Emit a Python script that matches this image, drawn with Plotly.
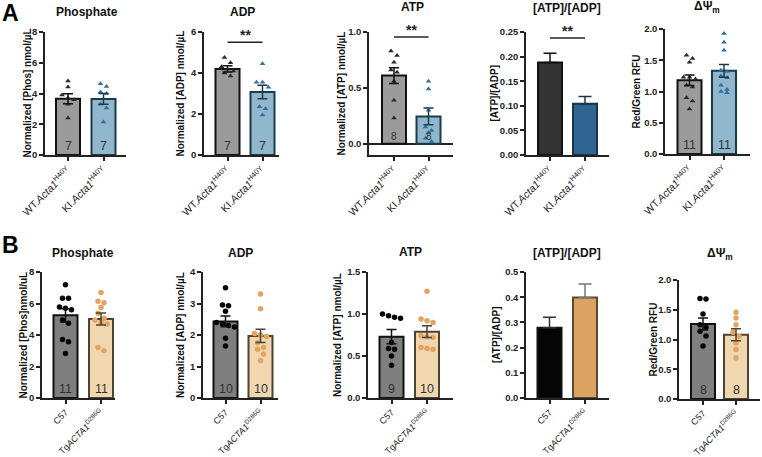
import plotly.graph_objects as go

# ---- data ----
titles = ["Phosphate", "ADP", "ATP", "[ATP]/[ADP]", "ΔΨ<sub>m</sub>"]
ytitles_a = ["Normalized [Phos] nmol/µL", "Normalized [ADP] nmol/µL",
             "Normalized [ATP] nmol/µL", "[ATP]/[ADP]", "Red/Green RFU"]
ytitles_b = ["Normalized [Phos]nmol/uL", "Normalized [ADP] nmol/µL",
             "Normalized [ATP] nmol/µL", "[ATP]/[ADP]", "Red/Green RFU"]
groups_a = ["WT.<i>Acta1</i><sup>H40Y</sup>", "KI.<i>Acta1</i><sup>H40Y</sup>"]
groups_b = ["C57", "Tg<i>ACTA1</i><sup>D286G</sup>"]

# row A : WT vs KI Acta1 H40Y
a_phos_wt = [4.82, 4.43, 3.9, 3.7, 3.6, 3.3, 2.4]
a_phos_ki = [4.63, 4.46, 4.1, 4.0, 3.3, 3.05, 2.15]
a_phos_mean = [3.66, 3.65]
a_phos_sem = [0.32, 0.35]

a_adp_wt = [4.75, 4.5, 4.3, 4.2, 4.1, 4.0, 3.85]
a_adp_ki = [4.45, 3.55, 3.55, 3.3, 2.35, 2.25, 1.95]
a_adp_mean = [4.2, 3.07]
a_adp_sem = [0.15, 0.33]

a_atp_wt = [0.83, 0.79, 0.73, 0.66, 0.64, 0.56, 0.39, 0.23]
a_atp_ki = [0.56, 0.49, 0.3, 0.15, 0.12, 0.1, 0.05, 0.02]
a_atp_mean = [0.61, 0.245]
a_atp_sem = [0.07, 0.075]

a_ratio_mean = [0.188, 0.104]
a_ratio_sem = [0.019, 0.015]

a_psi_wt = [1.58, 1.53, 1.47, 1.23, 1.23, 1.2, 1.1, 1.07, 0.9, 0.85, 0.72]
a_psi_ki = [1.93, 1.79, 1.66, 1.34, 1.32, 1.25, 1.22, 1.1, 1.03, 1.0, 0.98]
a_psi_mean = [1.18, 1.33]
a_psi_sem = [0.085, 0.1]

# row B : C57 vs TgACTA1 D286G
b_phos_c57 = [7.19, 6.34, 6.34, 5.77, 5.7, 5.6, 4.96, 4.74, 3.72, 3.57, 2.83]
b_phos_tg = [6.7, 6.15, 6.05, 5.75, 5.38, 5.06, 4.96, 4.8, 4.7, 3.2, 3.0]
b_phos_mean = [5.25, 5.02]
b_phos_sem = [0.42, 0.38]

b_adp_c57 = [3.5, 2.95, 2.93, 2.75, 2.4, 2.35, 2.3, 2.25, 1.9, 1.65]
b_adp_tg = [3.3, 2.83, 2.05, 2.0, 1.95, 1.75, 1.6, 1.55, 1.4, 1.18]
b_adp_mean = [2.43, 1.97]
b_adp_sem = [0.17, 0.21]

b_atp_c57 = [1.0, 0.98, 0.96, 0.95, 0.66, 0.59, 0.58, 0.5, 0.39]
b_atp_tg = [1.27, 0.94, 0.92, 0.9, 0.74, 0.73, 0.72, 0.6, 0.59, 0.58]
b_atp_mean = [0.73, 0.79]
b_atp_sem = [0.085, 0.07]

b_ratio_mean = [0.279, 0.399]
b_ratio_sem = [0.041, 0.053]

b_psi_c57 = [1.69, 1.68, 1.43, 1.25, 1.2, 1.14, 1.06, 0.89]
b_psi_tg = [1.46, 1.36, 1.25, 1.12, 1.05, 0.94, 0.83, 0.69]
b_psi_mean = [1.26, 1.08]
b_psi_sem = [0.1, 0.1]

# ---- styling ----
W, H = 762, 457
FONT = "Arial, Liberation Sans, sans-serif"

style_a = dict(fill=["#9b9b9b", "#90b7cc"], edge=["#111111", "#1b3a4b"],
               dot=["#2a2a2a", "#2f6fa3"], symbol="triangle-up", err=["#111111", "#1b3a4b"])
style_a_ratio = dict(fill=["#333333", "#2f6590"], edge=["#111111", "#1c3448"], err=["#111111", "#1c3448"])
style_b = dict(fill=["#7f7f7f", "#f1d7b0"], edge=["#111111", "#4d4330"],
               dot=["#050505", "#e3a45f"], symbol="circle", err=["#111111", "#4d4330"])
style_b_ratio = dict(fill=["#050505", "#dca262"], edge=["#111111", "#5a4a35"], err=["#333333", "#777777"])

# pixel boxes: x0, x1, bar centres, top, bottom
panels = [
    dict(box=(45, 126, 68, 103.5, 32, 155), yr=(0, 8), dt=2, fmt="d", pts=(a_phos_wt, a_phos_ki),
         mean=a_phos_mean, sem=a_phos_sem, st=style_a, title=(87, 12), yt=(27, ytitles_a[0])),
    dict(box=(204, 279, 227.5, 262.5, 32, 155), yr=(0, 6), dt=2, fmt="d", pts=(a_adp_wt, a_adp_ki),
         mean=a_adp_mean, sem=a_adp_sem, st=style_a, title=(242, 12), yt=(180, ytitles_a[1]), sig=5.5),
    dict(box=(369, 453, 394, 428.5, 32, 155), yr=(-0.1, 1.0), dt=0.5, fmt=".1f", pts=(a_atp_wt, a_atp_ki),
         mean=a_atp_mean, sem=a_atp_sem, st=style_a, title=(412, 7), yt=(341, ytitles_a[2]), sig=0.955, zero=True),
    dict(box=(526, 609, 550, 585, 32, 155), yr=(0, 0.25), dt=0.05, fmt=".2f", pts=None,
         mean=a_ratio_mean, sem=a_ratio_sem, st=style_a_ratio, title=(567, 8), yt=(494, ytitles_a[3]), sig=0.238),
    dict(box=(665, 750, 689.5, 724, 29, 154), yr=(0, 2), dt=0.5, fmt=".1f", pts=(a_psi_wt, a_psi_ki),
         mean=a_psi_mean, sem=a_psi_sem, st=style_a, title=(707, 7), yt=(636, ytitles_a[4])),
    dict(box=(42, 115, 65.5, 101, 272, 398), yr=(0, 8), dt=2, fmt="d", pts=(b_phos_c57, b_phos_tg),
         mean=b_phos_mean, sem=b_phos_sem, st=style_b, title=(83, 253), yt=(22.5, ytitles_b[0])),
    dict(box=(203, 278, 225.5, 260.5, 272, 398), yr=(0, 4), dt=1, fmt="d", pts=(b_adp_c57, b_adp_tg),
         mean=b_adp_mean, sem=b_adp_sem, st=style_b, title=(240, 253), yt=(180, ytitles_b[1])),
    dict(box=(368, 453, 391.5, 427, 272, 398), yr=(0, 1.5), dt=0.5, fmt=".1f", pts=(b_atp_c57, b_atp_tg),
         mean=b_atp_mean, sem=b_atp_sem, st=style_b, title=(410, 252), yt=(337, ytitles_b[2])),
    dict(box=(526, 609, 549.5, 585, 272, 398), yr=(0, 0.5), dt=0.1, fmt=".1f", pts=None,
         mean=b_ratio_mean, sem=b_ratio_sem, st=style_b_ratio, title=(567, 253), yt=(496, ytitles_b[3])),
    dict(box=(679, 760, 703, 736, 280, 399), yr=(0, 2), dt=0.5, fmt=".1f", pts=(b_psi_c57, b_psi_tg),
         mean=b_psi_mean, sem=b_psi_sem, st=style_b, title=(720, 254), yt=(653, ytitles_b[4])),
]


def swarm(vals, ppu_y, ppu_x, size=5.5, step=6.0):
    # prism-like rows: points close in y are spread symmetrically
    order = sorted(range(len(vals)), key=lambda i: -vals[i])
    offs = [0.0] * len(vals)
    rows, cur = [], []
    for i in order:
        if cur and (vals[cur[0]] - vals[i]) * ppu_y > size:
            rows.append(cur)
            cur = []
        cur.append(i)
    rows.append(cur)
    for r in rows:
        n = len(r)
        for k, i in enumerate(r):
            offs[i] = (k - (n - 1) / 2) * step / ppu_x
    return offs


fig = go.Figure()
layout = {}
ann = []
shapes = []

for n, p in enumerate(panels):
    k = n + 1
    xa, ya = ("x", "y") if k == 1 else (f"x{k}", f"y{k}")
    x0, x1, c0, c1, top, bot = p["box"]
    unit = c1 - c0
    ppu_y = (bot - top) / (p["yr"][1] - p["yr"][0])
    st = p["st"]
    row_a = n < 5
    labels = groups_a if row_a else groups_b
    bw = 24 / unit

    for j in range(2):
        fig.add_trace(go.Bar(
            x=[j], y=[p["mean"][j]], width=bw, xaxis=xa, yaxis=ya,
            marker=dict(color=st["fill"][j], line=dict(color=st["edge"][j], width=2)),
            showlegend=False, hoverinfo="skip"))

    if p["pts"] is not None:
        for j in range(2):
            vals = p["pts"][j]
            offs = swarm(vals, ppu_y, unit)
            fig.add_trace(go.Scatter(
                x=[j + o for o in offs], y=vals, mode="markers", xaxis=xa, yaxis=ya,
                marker=dict(symbol=st["symbol"], size=5 if row_a else 5.5, color=st["dot"][j]),
                showlegend=False, hoverinfo="skip"))
            ann.append(dict(x=j, y=max(p["yr"][0], 0), xref=xa, yref=ya, text=str(len(vals)),
                            showarrow=False, yanchor="bottom", yshift=0,
                            font=dict(family=FONT, size=12.5 if p["yr"][0] >= 0 else 10, color="#333333")))

    both = p["pts"] is not None
    for j in range(2):
        fig.add_trace(go.Scatter(
            x=[j], y=[p["mean"][j]], mode="markers", xaxis=xa, yaxis=ya,
            marker=dict(size=1, opacity=0),
            error_y=dict(type="data", symmetric=False, array=[p["sem"][j]],
                         arrayminus=[p["sem"][j] if both else 0],
                         color=st["err"][j], thickness=1.5, width=5 if both else 6.5),
            showlegend=False, hoverinfo="skip"))

    axis_common = dict(showline=True, linecolor="#222222", linewidth=1.5, ticks="outside",
                       ticklen=4, tickwidth=1.5, tickcolor="#222222", showgrid=False,
                       automargin=False, fixedrange=True)
    layout["xaxis" if k == 1 else f"xaxis{k}"] = dict(
        axis_common, domain=[x0 / W, x1 / W], anchor=ya,
        range=[(x0 - c0) / unit, (x1 - c0) / unit], tickvals=[0, 1], ticktext=labels,
        tickangle=-45, zeroline=False,
        tickfont=dict(family=FONT, size=10.5 if row_a else 9, color="#222222"))
    layout["yaxis" if k == 1 else f"yaxis{k}"] = dict(
        axis_common, domain=[1 - bot / H, 1 - top / H], anchor=xa,
        range=list(p["yr"]), dtick=p["dt"], tick0=0, tickformat=p["fmt"],
        zeroline=p.get("zero", False), zerolinecolor="#222222", zerolinewidth=1.5,
        tickfont=dict(family=FONT, size=9.5, color="#222222", weight="bold"))

    tx, ty = p["title"]
    ann.append(dict(x=tx / W, y=1 - ty / H, xref="paper", yref="paper", text="<b>%s</b>" % titles[n % 5],
                    showarrow=False, xanchor="center", yanchor="middle",
                    font=dict(family=FONT, size=12, color="#111111")))
    yx, ytxt = p["yt"]
    ann.append(dict(x=yx / W, y=1 - (top + bot) / 2 / H, xref="paper", yref="paper", text="<b>%s</b>" % ytxt,
                    showarrow=False, textangle=-90, xanchor="center", yanchor="middle",
                    font=dict(family=FONT, size=10, color="#111111")))

    if "sig" in p:
        shapes.append(dict(type="line", xref=xa, yref=ya, x0=0, x1=1, y0=p["sig"], y1=p["sig"],
                           line=dict(color="#222222", width=1.5)))
        ann.append(dict(x=0.5, y=p["sig"], xref=xa, yref=ya, text="<b>**</b>", showarrow=False,
                        yanchor="bottom", yshift=-3, font=dict(family=FONT, size=14, color="#222222")))

ann.append(dict(x=10 / W, y=1 - 12.5 / H, xref="paper", yref="paper", text="<b>A</b>", showarrow=False,
                xanchor="center", yanchor="middle", font=dict(family=FONT, size=23, color="#000000")))
ann.append(dict(x=10 / W, y=1 - 244.5 / H, xref="paper", yref="paper", text="<b>B</b>", showarrow=False,
                xanchor="center", yanchor="middle", font=dict(family=FONT, size=23, color="#000000")))

fig.update_layout(
    width=W, height=H, margin=dict(l=0, r=0, t=0, b=0),
    paper_bgcolor="white", plot_bgcolor="white", barmode="overlay",
    annotations=ann, shapes=shapes, font=dict(family=FONT),
    **layout)

# the page body has a default 8px margin; drop it so the figure fills the window
fig.write_html("out.html", config={"displayModeBar": False},
               post_script="document.body.style.margin='0';document.body.style.overflow='hidden';")
